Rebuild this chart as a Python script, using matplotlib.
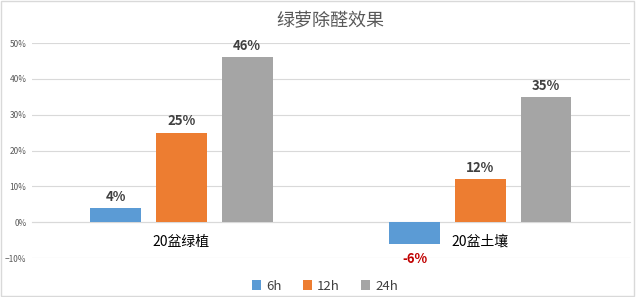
import matplotlib
matplotlib.use('Agg')
import matplotlib.pyplot as plt
import numpy as np
from matplotlib.ticker import PercentFormatter

plt.rcParams['font.family'] = ['Noto Sans CJK SC', 'DejaVu Sans']

# 数据
categories = ['20盆绿植', '20盆土壤']
series_names = ['6h', '12h', '24h']
v_6h = [4, -6]
v_12h = [25, 12]
v_24h = [46, 35]
colors = ['#5B9BD5', '#ED7D31', '#A5A5A5']

fig = plt.figure(figsize=(6.4, 2.97), dpi=100)
ax = fig.add_axes([0.05, 0.131, 0.934, 0.724])

x = np.arange(len(categories))
width = 0.17
step = 0.22
for i, (vals, name, c) in enumerate(zip([v_6h, v_12h, v_24h], series_names, colors)):
    pos = x + (i - 1) * step
    ax.bar(pos, vals, width, color=c, label=name, zorder=3)
    for p, v in zip(pos, vals):
        if v >= 0:
            ax.annotate(f'{v}%', (p, v), xytext=(0, 3), textcoords='offset points',
                        ha='center', va='bottom', fontsize=9.5, fontweight='bold', color='#404040')
        else:
            ax.annotate(f'{v}%', (p, v), xytext=(0, -6), textcoords='offset points',
                        ha='center', va='top', fontsize=9.5, fontweight='bold', color='#C00000')

ax.set_xlim(-0.5, 1.5)
ax.set_ylim(-10, 50)
ax.set_yticks(range(-10, 51, 10))
ax.yaxis.set_major_formatter(PercentFormatter(decimals=0))
ax.set_xticks(x)
ax.set_xticklabels(categories, fontsize=7.5, color='#404040')
ax.spines['bottom'].set_position(('data', 0))
ax.spines['bottom'].set_color('#D9D9D9')
for s in ['top', 'right', 'left']:
    ax.spines[s].set_visible(False)
ax.tick_params(axis='x', length=0, pad=9)
ax.tick_params(axis='y', length=0, labelsize=6, labelcolor='#595959', pad=4)
ax.grid(axis='y', color='#D9D9D9', linewidth=0.8, zorder=0)

ax.set_title('绿萝除醛效果', fontsize=13, color='#595959', pad=12)

fig.legend(loc='center', bbox_to_anchor=(0.508, 0.037), ncol=3, frameon=False,
           fontsize=9.5, handlelength=0.7, handleheight=0.7, columnspacing=1.6,
           handletextpad=0.4, labelcolor='#404040')

fig.patches.append(plt.Rectangle((0.002, 0.003), 0.988, 0.994, transform=fig.transFigure,
                                 fill=False, edgecolor='#D9D9D9', linewidth=1))

fig.savefig('out.png', dpi=100)
